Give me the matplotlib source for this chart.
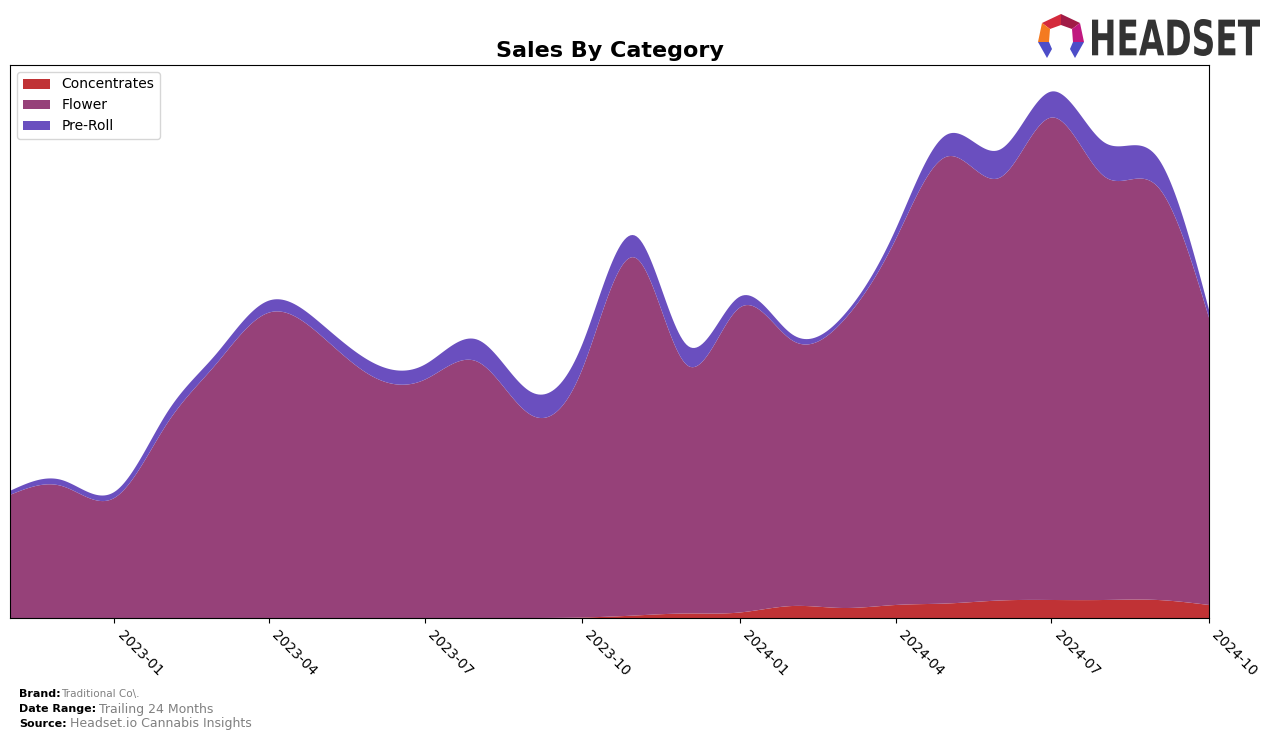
import numpy as np
import pandas as pd
import matplotlib
matplotlib.use("Agg")
import matplotlib.pyplot as plt
import matplotlib.dates as mdates
from matplotlib.textpath import TextPath
from matplotlib.patches import PathPatch, Polygon
from matplotlib.font_manager import FontProperties
from matplotlib.transforms import Affine2D


months = pd.date_range("2022-11-01", "2024-10-01", freq="MS")
categories = ["Concentrates", "Flower", "Pre-Roll"]
colors = ["#c03235", "#964179", "#6a4fbf"]

# monthly sales (thousands)
concentrates = [0, 0, 0, 0, 0, 0, 0, 0, 0, 0, 0, 0.5,
                2.5, 4.5, 5.5, 12, 10, 13, 14.5, 17.5, 18, 18, 18, 13]
flower = [123, 132, 120, 195, 253, 305, 283, 241, 238, 256, 203, 247.5,
          357.5, 248.5, 304.5, 265, 286, 365, 446.5, 422.5, 482, 423, 413, 287]
preroll = [4, 6, 6, 11, 10, 12, 12, 14, 15, 22, 23, 25,
           22, 20, 11, 6, 5, 10, 22, 28, 26, 34, 29, 8]

tick_labels = ["2023-01", "2023-04", "2023-07", "2023-10",
               "2024-01", "2024-04", "2024-07", "2024-10"]


def natural_spline(x, y, xs):
    x = np.asarray(x, float)
    y = np.asarray(y, float)
    n = len(x)
    h = np.diff(x)
    A = np.zeros((n - 2, n - 2))
    rhs = np.zeros(n - 2)
    for i in range(n - 2):
        A[i, i] = 2 * (h[i] + h[i + 1])
        if i + 1 < n - 2:
            A[i, i + 1] = h[i + 1]
            A[i + 1, i] = h[i + 1]
        rhs[i] = 6 * ((y[i + 2] - y[i + 1]) / h[i + 1] - (y[i + 1] - y[i]) / h[i])
    M = np.zeros(n)
    M[1:-1] = np.linalg.solve(A, rhs)
    idx = np.clip(np.searchsorted(x, xs) - 1, 0, n - 2)
    x0, x1 = x[idx], x[idx + 1]
    hh = x1 - x0
    a = (x1 - xs) / hh
    b = (xs - x0) / hh
    return (a * y[idx] + b * y[idx + 1]
            + ((a ** 3 - a) * M[idx] + (b ** 3 - b) * M[idx + 1]) * hh ** 2 / 6)


xnum = mdates.date2num(months)
xs = np.linspace(xnum[0], xnum[-1], 600)
smooth = [np.clip(natural_spline(xnum, s, xs), 0, None)
          for s in (concentrates, flower, preroll)]

fig = plt.figure(figsize=(12.76, 7.4), dpi=100)
ax = fig.add_axes([10 / 1276, 1 - 618 / 740, 1199 / 1276, 553 / 740])
ax.stackplot(xs, *smooth, labels=categories, colors=colors, linewidth=0)
ax.set_xlim(xnum[0], xnum[-1])
ax.set_ylim(0, np.sum(smooth, axis=0).max() * 1.05)
ax.set_yticks([])
ticks = mdates.date2num(pd.to_datetime(tick_labels))
ax.set_xticks(ticks)
ax.set_xticklabels(tick_labels, rotation=-45, ha="left", fontsize=10)
ax.set_title("Sales By Category", fontsize=16, fontweight="bold")
ax.legend(loc="upper left", fontsize=10)

# footer
fig.text(19 / 1276, 1 - 694 / 740, "Brand:", fontsize=8, fontweight="bold", va="center")
fig.text(61 / 1276, 1 - 694 / 740, "Traditional Co\\.", fontsize=7.5, color="#808080", va="center")
fig.text(19 / 1276, 1 - 709 / 740, "Date Range:", fontsize=8, fontweight="bold", va="center")
fig.text(99 / 1276, 1 - 709 / 740, "Trailing 24 Months", fontsize=9, color="#808080", va="center")
fig.text(19 / 1276, 1 - 724 / 740, "Source:", fontsize=8, fontweight="bold", va="center")
fig.text(70 / 1276, 1 - 724 / 740, "Headset.io Cannabis Insights", fontsize=9, color="#808080", va="center")

# logo
lax = fig.add_axes([1030 / 1276, 1 - 65 / 740, 240 / 1276, 65 / 740])
lax.set_xlim(1030, 1270)
lax.set_ylim(65, 0)
lax.axis("off")
P = {"t": (1061, 14), "ul": (1042, 23), "l": (1038, 42), "bl": (1047, 58),
     "ur": (1080, 23), "r": (1084, 42), "br": (1075, 58)}
Q = {"t": (1061, 25), "ul": (1050, 29), "l": (1049, 42), "bl": (1052, 49),
     "ur": (1072, 29), "r": (1073, 42), "br": (1070, 49)}
pieces = [(("t", "ul"), "#d42a3c"), (("t", "ur"), "#a11c47"),
          (("ul", "l"), "#f47a20"), (("ur", "r"), "#c0187f"),
          (("l", "bl"), "#4d4dc8"), (("r", "br"), "#4d4dc8")]
for (a, b), c in pieces:
    lax.add_patch(Polygon([P[a], P[b], Q[b], Q[a]], closed=True, color=c, lw=0))
tp = TextPath((0, 0), "HEADSET", size=40,
              prop=FontProperties(family="DejaVu Sans", weight="bold"))
bb = tp.get_extents()
tr = (Affine2D().translate(-bb.x0, -bb.y0)
      .scale(168 / bb.width, -37 / bb.height).translate(1092, 56))
lax.add_patch(PathPatch(tr.transform_path(tp), color="#333333", lw=0))

fig.savefig("out.png", dpi=100)
